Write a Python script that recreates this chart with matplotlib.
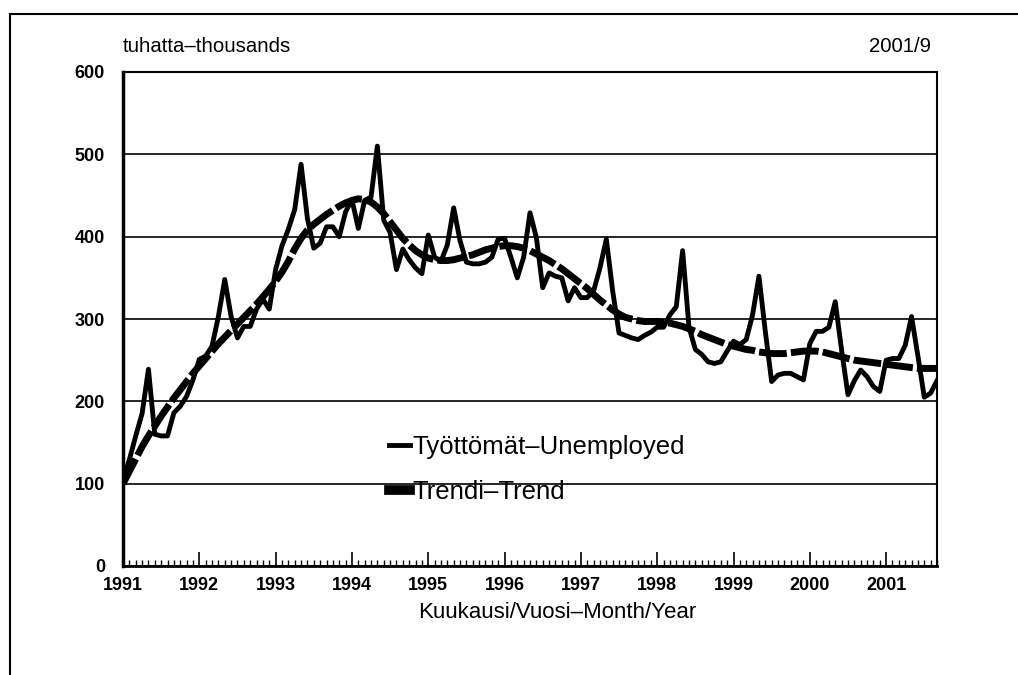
import matplotlib
matplotlib.use("Agg")
import matplotlib.pyplot as plt
import numpy as np
from matplotlib.lines import Line2D
from matplotlib.ticker import MultipleLocator

plt.rcParams["font.family"] = ["Liberation Sans Narrow", "Liberation Sans", "DejaVu Sans"]

# monthly figures, 1991/1 .. 2001/9 (thousands)
years = [str(y) for y in range(1991, 2002)]

unemployed = [
    105, 129, 158, 185, 239, 160, 158, 158, 186, 194, 206, 226,   # 1991
    251, 255, 267, 303, 348, 303, 277, 291, 291, 312, 324, 312,   # 1992
    360, 389, 409, 433, 488, 422, 386, 392, 412, 412, 400, 430,   # 1993
    445, 410, 444, 448, 510, 420, 405, 360, 385, 372, 362, 355,   # 1994
    402, 375, 370, 390, 435, 395, 369, 367, 367, 369, 375, 397,   # 1995
    398, 375, 350, 375, 429, 399, 338, 356, 352, 350, 322, 338,   # 1996
    326, 326, 334, 362, 397, 334, 283, 280, 277, 275, 280, 284,   # 1997
    290, 290, 305, 315, 383, 290, 263, 257, 248, 246, 248, 261,   # 1998
    273, 269, 275, 305, 352, 285, 224, 232, 234, 234, 230, 226,   # 1999
    270, 285, 285, 290, 321, 262, 208, 225, 238, 230, 218, 212,   # 2000
    250, 252, 252, 268, 303, 255, 205, 210, 225,                  # 2001
]

trend = [
    100, 115, 130, 145, 158, 170, 182, 193, 204, 214, 224, 234,
    243, 252, 261, 270, 278, 286, 294, 302, 310, 318, 327, 336,
    346, 357, 370, 385, 398, 408, 415, 421, 427, 432, 437, 441,
    444, 446, 445, 442, 436, 428, 418, 408, 398, 390, 383, 378,
    374, 372, 371, 371, 372, 374, 376, 378, 381, 384, 386, 388,
    389, 389, 388, 386, 383, 379, 375, 371, 366, 361, 355, 349,
    343, 337, 330, 323, 317, 311, 306, 302, 300, 298, 297, 297,
    297, 296, 295, 293, 291, 288, 285, 281, 278, 275, 272, 269,
    267, 265, 263, 262, 260, 259, 258, 258, 258, 259, 260, 261,
    261, 261, 260, 258, 256, 254, 252, 250, 249, 248, 247, 246,
    245, 244, 243, 242, 241, 240, 240, 240, 240,
]

months = np.arange(len(unemployed))

W, H = 1018, 675
fig = plt.figure(figsize=(W / 100, H / 100), dpi=100)
ax = fig.add_axes([123 / W, 1 - 566 / H, (937 - 123) / W, (566 - 72) / H])

trend_line, = ax.plot(months, trend, color="black", lw=5, dashes=(4, 0.6),
                      zorder=2, label="Trendi–Trend")
unemp_line, = ax.plot(months, unemployed, color="black", lw=3.5,
                      zorder=3, label="Työttömät–Unemployed")

ax.set_xlim(0, 128)
ax.set_ylim(0, 600)
ax.set_yticks(range(0, 601, 100))
ax.set_xticks(range(0, 121, 12))
ax.set_xticklabels(years)
ax.xaxis.set_minor_locator(MultipleLocator(1))
ax.grid(axis="y", color="black", lw=1.2)
ax.set_axisbelow(True)

ax.tick_params(axis="y", length=0, pad=13, labelsize=13)
ax.tick_params(axis="x", which="major", direction="in", length=10, width=1.2,
               pad=8, labelsize=13)
ax.tick_params(axis="x", which="minor", direction="in", length=4, width=1)
for lbl in ax.get_xticklabels() + ax.get_yticklabels():
    lbl.set_fontweight("bold")

for side, w in [("left", 2.5), ("bottom", 2), ("top", 1.5), ("right", 1.5)]:
    ax.spines[side].set_linewidth(w)

leg = ax.legend(handles=[unemp_line, Line2D([], [], color="black", lw=7)],
                labels=["Työttömät–Unemployed", "Trendi–Trend"],
                loc="upper left", bbox_to_anchor=(389 / W, 1 - 435 / H),
                bbox_transform=fig.transFigure, frameon=False,
                handlelength=0.8, handletextpad=0.12, labelspacing=0.8,
                borderaxespad=0, borderpad=0,
                prop={"family": ["Liberation Sans", "DejaVu Sans"], "size": 18.5})

fig.text(123 / W, 1 - 47 / H, "tuhatta–thousands", ha="left", va="center", fontsize=14.7)
fig.text(931 / W, 1 - 47 / H, "2001/9", ha="right", va="center", fontsize=14.7)
fig.text(557 / W, 1 - 612 / H, "Kuukausi/Vuosi–Month/Year", ha="center", va="center",
         fontsize=16, family=["Liberation Sans", "DejaVu Sans"])

# outer frame (top and left edges)
fig.add_artist(Line2D([10 / W, 1], [1 - 14 / H] * 2, transform=fig.transFigure,
                      color="black", lw=1.5))
fig.add_artist(Line2D([10 / W, 10 / W], [1 - 14 / H, 0], transform=fig.transFigure,
                      color="black", lw=1.5))

fig.savefig("out.png", dpi=100)
